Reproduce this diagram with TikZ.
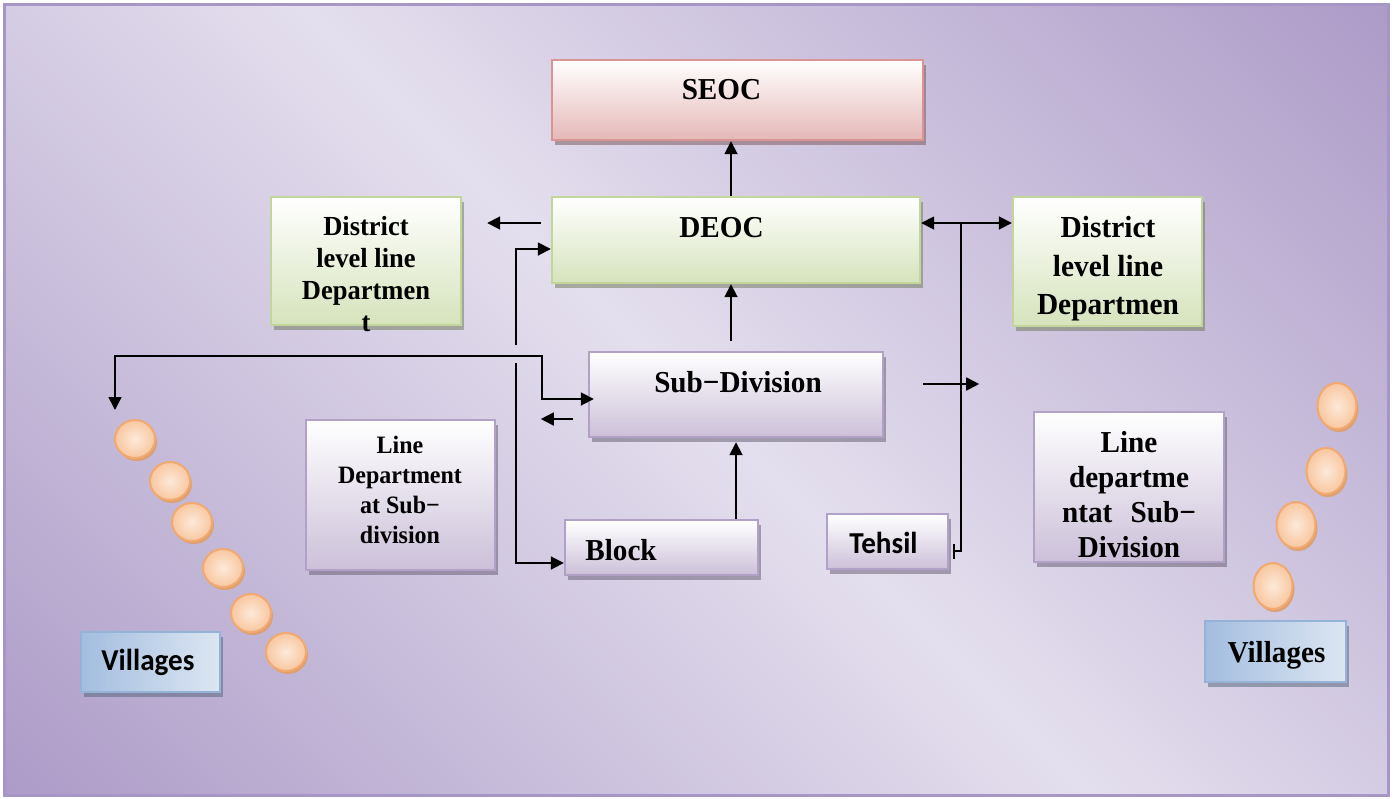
\documentclass[tikz,border=0pt]{standalone}
\usepackage{fontspec}
\setmainfont[FakeStretch=0.96]{Liberation Serif}
\newfontfamily\calfont[FakeStretch=0.96]{Carlito}
\usetikzlibrary{positioning,calc,arrows.meta,shapes.geometric}

\definecolor{bglight}{HTML}{E4DFEE}
\definecolor{bgdark}{HTML}{AD9CC8}
\definecolor{cornice}{HTML}{A596C6}
\definecolor{seocline}{HTML}{D99594}
\definecolor{seocfill}{HTML}{E5B8B7}
\definecolor{deocline}{HTML}{C2D69B}
\definecolor{deocfill}{HTML}{D6E3BC}
\definecolor{viollaline}{HTML}{B2A1C7}
\definecolor{viollafill}{HTML}{CCC0D9}
\definecolor{villline}{HTML}{95B3D7}
\definecolor{villscuro}{HTML}{A3BDDF}
\definecolor{villchiaro}{HTML}{DCE6F2}
\definecolor{perlaline}{HTML}{F2A971}
\definecolor{perladentro}{HTML}{FDE9D9}
\definecolor{perlafuori}{HTML}{F8C7A0}
\definecolor{perlaombra}{HTML}{DDA070}

\pgfdeclarehorizontalshading{sfondo}{100bp}{color(0bp)=(bgdark); color(15bp)=(bgdark); color(50bp)=(bglight); color(85bp)=(bgdark); color(100bp)=(bgdark)}

\tikzset{
  riquadro/.style={draw=#1line, line width=1.2pt, top color=white, bottom color=#1fill, inner sep=0pt,
    preaction={fill=#1line!55!black, fill opacity=0.5, transform canvas={xshift=1.5pt,yshift=-2.5pt}}},
  villbox/.style={draw=villline, line width=1.2pt, left color=villscuro, right color=villchiaro, inner sep=0pt,
    preaction={fill=villline!55!black, fill opacity=0.5, transform canvas={xshift=1.5pt,yshift=-2.5pt}}},
  perla/.style={ellipse, draw=perlaline, line width=1pt, inner color=perladentro, outer color=perlafuori, inner sep=0pt,
    preaction={fill=perlaombra, transform canvas={xshift=1pt,yshift=-1.5pt}}},
  testo/.style={font=\bfseries\fontsize{15.2}{19}\selectfont, inner sep=0pt, align=center},
  freccia/.style={line width=0.9pt, -{Triangle[length=6.5pt,width=6.5pt]}},
  doppia/.style={line width=0.9pt, {Triangle[length=6.5pt,width=6.5pt]}-{Triangle[length=6.5pt,width=6.5pt]}}
}

\begin{document}
\begin{tikzpicture}[x=0.5pt,y=-0.5pt]
  \useasboundingbox (0,0) rectangle (1397,798);
  % Sfondo
  \shade[shading=sfondo, shading angle=45] (4,4) rectangle (1388,795);
  \draw[cornice, line width=1.5pt] (4,4) rectangle (1388,795);

  % Riquadri
  \node[riquadro=seoc, minimum width=185.5pt, minimum height=40pt] (seoc) at (737.5,100) {};
  \node[riquadro=deoc, minimum width=184pt, minimum height=43pt] (deoc) at (736,240) {};
  \node[riquadro=deoc, minimum width=95pt, minimum height=64pt] (distl) at (366,261) {};
  \node[riquadro=deoc, minimum width=94.5pt, minimum height=64.5pt] (distr) at (1107.5,261.5) {};
  \node[riquadro=violla, minimum width=147pt, minimum height=42.5pt] (subdiv) at (736,394.5) {};
  \node[riquadro=violla, minimum width=94.5pt, minimum height=75pt] (ldl) at (400.5,495) {};
  \node[riquadro=violla, minimum width=96.5pt, minimum height=27.5pt] (block) at (661.5,547.5) {};
  \node[riquadro=violla, minimum width=60.5pt, minimum height=27.5pt] (tehsil) at (887.5,541.5) {};
  \node[riquadro=violla, minimum width=95pt, minimum height=75pt] (ldr) at (1129,487) {};
  \node[villbox, minimum width=69.5pt, minimum height=30pt] (vill) at (150.5,662) {};
  \node[villbox, minimum width=70.5pt, minimum height=30.5pt] (vilr) at (1275.5,651.5) {};

  % Testi
  \node[testo, anchor=base] (seoc-t) at (721.5,99) {SEOC};
  \node[testo, anchor=base] (deoc-t) at (721.5,237) {DEOC};
  \node[testo, anchor=base] (subdiv-t) at (738,392) {Sub−Division};
  \node[testo, anchor=north, font=\bfseries\fontsize{13.8}{16}\selectfont] (distl-t) at (366,216) {District\\level line\\Departmen\\t};
  \node[testo, anchor=north, font=\bfseries\fontsize{15.3}{19.25}\selectfont] (distr-t) at (1108,216) {District\\level line\\Departmen};
  \node[testo, anchor=north, font=\bfseries\fontsize{12.5}{15}\selectfont] (ldl-t) at (400,436) {Line\\Department\\at Sub−\\division};
  \node[testo, anchor=north, font=\bfseries\fontsize{15.2}{17.5}\selectfont] (ldr-t) at (1129,431) {Line\\departme\\ntat\hspace{0.6em}Sub−\\Division};
  \node[testo, anchor=base] (block-t) at (621,560) {Block};
  \node[testo, anchor=base, font=\calfont\bfseries\fontsize{15.2}{19}\selectfont] (tehsil-t) at (883.5,553) {Tehsil};
  \node[testo, anchor=base, font=\calfont\bfseries\fontsize{15.2}{19}\selectfont] (vill-t) at (148,670) {Villages};
  \node[testo, anchor=base] (vilr-t) at (1276.5,662) {Villages};

  % Perle dei villaggi
  \foreach \nome/\px/\py in {v1/135/439, v2/170/481, v3/192/522, v4/223/568, v5/251/613, v6/286/652}
    \node[perla, minimum width=20pt, minimum height=19pt] (\nome) at (\px,\py) {};
  \foreach \nome/\px/\py in {w1/1337/406, w2/1326/471, w3/1296/525, w4/1273/586}
    \node[perla, minimum width=19.5pt, minimum height=23pt] (\nome) at (\px,\py) {};

  % Collegamenti
  \coordinate (sx) at (516,345);
  \coordinate (sxb) at (516,363);
  \coordinate (ang) at (115,410);
  \coordinate (dx) at (961,223);
  \draw[freccia] ([xshift=-3.25pt]seoc.south |- deoc.north) -- ([xshift=-3.25pt]seoc.south);
  \draw[freccia, shorten <=5pt] ([xshift=-2.5pt]subdiv.north) -- ([xshift=-2.5pt]deoc.south);
  \draw[freccia] ([xshift=-5pt,yshift=8.5pt]deoc.west) -- ([xshift=12.5pt,yshift=19pt]distl.east);
  \draw[freccia] (sx) |- ([yshift=-4.5pt]deoc.west);
  \draw[freccia] (sxb) |- ([yshift=-7.75pt]block.west);
  \draw[doppia] (ang) |- (542,356) |- ([xshift=3pt,yshift=-2.25pt]subdiv.west);
  \draw[freccia] ([xshift=-7.5pt,yshift=-12.25pt]subdiv.west) -- ([xshift=-23.5pt,yshift=-12.25pt]subdiv.west);
  \draw[freccia, shorten >=2pt] (block.north -| subdiv.south) -- (subdiv.south);
  \draw[freccia] ([xshift=19.5pt,yshift=5.25pt]subdiv.east) -- ([xshift=47.5pt,yshift=5.25pt]subdiv.east);
  \draw[doppia] ([yshift=8.5pt]deoc.east) -- ([yshift=8.5pt]deoc.east -| distr.west);
  \draw[line width=0.9pt, -{Bar[width=7.5pt]}] (dx) |- ([xshift=2pt,yshift=-4.75pt]tehsil.east);
\end{tikzpicture}
\end{document}
